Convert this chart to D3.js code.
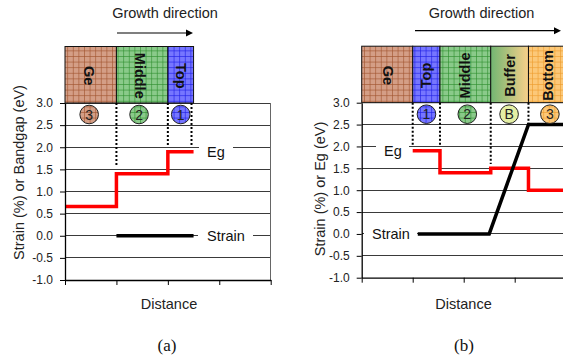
<!DOCTYPE html>
<html>
<head>
<meta charset="utf-8">
<script src="https://cdn.jsdelivr.net/npm/d3@7"></script>
<style>
  html, body { margin: 0; padding: 0; background: #fff; }
  svg { display: block; font-family: "Liberation Sans", Arial, Helvetica, sans-serif; }
</style>
</head>
<body>
<svg id="chart" width="563" height="358"></svg>
<script>
// ---------- data ----------
const yTicks = [-1.0, -0.5, 0.0, 0.5, 1.0, 1.5, 2.0, 2.5, 3.0];
const xTicks = [0, 1, 2, 3, 4];

// Panel (a)
const layersA = ["Ge", "Middle", "Top"];
const layerStartA = [0, 1, 2];
const layerEndA = [1, 2, 2.5];
const layerLabelXA = [0.46, 1.46, 2.25];
const circleLabelsA = ["3", "2", "1"];
const circleXA = [0.47, 1.44, 2.25];
const egStartA = [0, 1, 2];
const egEndA = [1, 2, 2.5];
const egValA = [0.66, 1.4, 1.9];
const strainXA = [1, 2.5];
const strainValA = [0, 0];
const dottedXA = [1, 2, 2.46];
const dottedBottomA = [1.6, 2.05, 2.05];

// Panel (b)
const layersB = ["Ge", "Top", "Middle", "Buffer", "Bottom"];
const layerStartB = [0, 1, 1.535, 2.53, 3.27];
const layerEndB = [1, 1.535, 2.53, 3.27, 4.6];
const layerLabelXB = [0.52, 1.27, 2.03, 2.91, 3.66];
const circleLabelsB = ["1", "2", "B", "3"];
const circleLayerB = ["Top", "Middle", "Buffer", "Bottom"];
const circleXB = [1.27, 2.07, 2.89, 3.69];
const egStartB = [1, 1.535, 2.53, 3.27];
const egEndB = [1.535, 2.53, 3.27, 4.6];
const egValB = [1.9, 1.4, 1.5, 1.0];
const strainXB = [1.1, 2.5, 3.27, 4.6];
const strainValB = [0, 0, 2.5, 2.5];
const dottedXB = [1, 1.535, 2.53, 3.27];
const dottedBottomB = [2.0, 2.0, 1.6, 2.5];

// ---------- styles ----------
const layerStyle = {
  Ge:     { bg: "#d49e86", line: "#a0522d" },
  Middle: { bg: "#8aca8a", line: "#2e8e2e" },
  Top:    { bg: "#7676ff", line: "#1c1ce4" },
  Bottom: { bg: "#fcc878", line: "#ee9c2c" }
};

const svg = d3.select("#chart");
svg.append("rect").attr("width", 563).attr("height", 358).attr("fill", "#fff");
const defs = svg.append("defs");

const P = 5.6;
Object.entries(layerStyle).forEach(([k, s]) => {
  const p = defs.append("pattern").attr("id", "pat-" + k)
    .attr("patternUnits", "userSpaceOnUse").attr("width", P).attr("height", P);
  p.append("rect").attr("width", P).attr("height", P).attr("fill", s.bg);
  p.append("path").attr("d", `M0,0.35H${P} M0.35,0V${P}`)
    .attr("stroke", s.line).attr("stroke-width", 0.7).attr("fill", "none");
});
const grad = defs.append("linearGradient").attr("id", "grad-Buffer")
  .attr("x1", "0%").attr("x2", "100%").attr("y1", "0%").attr("y2", "0%");
grad.append("stop").attr("offset", "0%").attr("stop-color", "#72b672");
grad.append("stop").attr("offset", "100%").attr("stop-color", "#f9d08a");
const fillFor = k => k === "Buffer" ? "url(#grad-Buffer)" : "url(#pat-" + k + ")";
const circleFill = k => k === "Buffer" ? "#e4efa4" : fillFor(k);

function steps(starts, ends, vals) {
  const pts = [];
  starts.forEach((s, i) => { pts.push([s, vals[i]]); pts.push([ends[i], vals[i]]); });
  return pts;
}

function drawPanel(cfg) {
  const x = d3.scaleLinear().domain([0, 4]).range([cfg.x0, cfg.x1]);
  const y = d3.scaleLinear().domain([-1, 3]).range([cfg.yBottom, cfg.yTop]);
  const g = svg.append("g");
  const right = Math.min(cfg.x1, 563);

  // gridlines
  g.append("g").selectAll("line").data(yTicks.filter(d => d > -1)).join("line")
    .attr("x1", x(0)).attr("x2", right).attr("y1", d => y(d)).attr("y2", d => y(d))
    .attr("stroke", "#3a3a3a").attr("stroke-width", 1).attr("shape-rendering", "crispEdges");
  if (cfg.rightBorder) {
    g.append("line").attr("x1", x(4)).attr("x2", x(4)).attr("y1", y(3)).attr("y2", y(-1))
      .attr("stroke", "#666").attr("shape-rendering", "crispEdges");
  }

  // layer blocks
  const blockTop = y(3) - 56.5;
  const blocks = g.append("g").selectAll("g").data(cfg.layers.map((n, i) => ({
    n, s: cfg.start[i], e: cfg.end[i], lx: cfg.labelX[i], rot: cfg.rot[i] })))
    .join("g");
  blocks.append("rect")
    .attr("x", d => x(d.s)).attr("y", blockTop)
    .attr("width", d => x(d.e) - x(d.s)).attr("height", y(3) - blockTop)
    .attr("fill", d => fillFor(d.n)).attr("stroke", "#111").attr("stroke-width", 1);
  blocks.append("text")
    .attr("transform", d => `translate(${x(d.lx)},${(blockTop + y(3)) / 2 + 1}) rotate(${d.rot})`)
    .attr("text-anchor", "middle").attr("dominant-baseline", "central")
    .attr("font-weight", "bold").attr("font-size", 14.5).attr("fill", "#111")
    .text(d => d.n);

  // dotted separators
  g.append("g").selectAll("line").data(cfg.dottedX.map((d, i) => [d, cfg.dottedBottom[i]])).join("line")
    .attr("x1", d => x(d[0])).attr("x2", d => x(d[0]))
    .attr("y1", y(3)).attr("y2", d => y(d[1]))
    .attr("stroke", "#000").attr("stroke-width", 2).attr("stroke-dasharray", "2,2");

  // label boxes (white)
  cfg.labels.forEach(l => {
    g.append("rect").attr("x", l.bx0).attr("y", y(l.v) - 9)
      .attr("width", l.bx1 - l.bx0).attr("height", 17).attr("fill", "#fff");
    g.append("text").attr("x", l.tx).attr("y", y(l.v) + 5.2)
      .attr("font-size", 14.5).attr("fill", "#111").text(l.t);
  });

  const line = d3.line().x(d => x(d[0])).y(d => y(d[1])).curve(d3.curveLinear);
  // Eg
  g.append("path").datum(steps(cfg.egStart, cfg.egEnd, cfg.egVal)).attr("d", line)
    .attr("fill", "none").attr("stroke", "#ff0000").attr("stroke-width", 3.5)
    .attr("stroke-linejoin", "miter");
  // Strain
  g.append("path").datum(cfg.strainX.map((d, i) => [d, cfg.strainVal[i]])).attr("d", line)
    .attr("fill", "none").attr("stroke", "#000").attr("stroke-width", 3.5)
    .attr("stroke-linejoin", "miter");

  // circles
  const cy = y(3) + 11.5;
  const circ = g.append("g").selectAll("g").data(cfg.circleLabels.map((t, i) => ({
    t, cx: cfg.circleX[i], k: cfg.circleLayer[i] }))).join("g");
  circ.append("circle").attr("cx", d => x(d.cx)).attr("cy", cy).attr("r", 9.3)
    .attr("fill", d => circleFill(d.k)).attr("stroke", "#222").attr("stroke-width", 1);
  circ.append("text").attr("x", d => x(d.cx)).attr("y", cy + 5)
    .attr("text-anchor", "middle").attr("font-size", 14).attr("fill", "#222").text(d => d.t);

  // axes
  const ya = g.append("g").attr("transform", `translate(${x(0)},0)`)
    .call(d3.axisLeft(y).tickValues(yTicks).tickFormat(d => d.toFixed(1))
      .tickSize(5).tickSizeOuter(0).tickPadding(7));
  ya.select(".domain").attr("stroke", "#000").attr("stroke-width", 1.3);
  ya.selectAll(".tick line").attr("stroke", "#000");
  ya.selectAll("text").attr("font-size", 12).attr("fill", "#222")
    .attr("font-family", "Liberation Sans, Arial, sans-serif");
  const xa = g.append("g").attr("transform", `translate(0,${y(-1)})`)
    .call(d3.axisBottom(x).tickValues(xTicks).tickFormat("").tickSize(5).tickSizeOuter(0));
  xa.select(".domain").attr("stroke", "#000").attr("stroke-width", 1.3);
  xa.selectAll(".tick line").attr("stroke", "#000");

  // axis titles
  g.append("text").attr("transform", `translate(${cfg.yTitleX},${cfg.yTitleY}) rotate(-90)`)
    .attr("text-anchor", "middle").attr("dominant-baseline", "central")
    .attr("font-size", 14.5).attr("fill", "#222").text(cfg.yTitle);
  g.append("text").attr("x", cfg.distX).attr("y", 308.5).attr("text-anchor", "middle")
    .attr("font-size", 14.5).attr("fill", "#222").text("Distance");
  g.append("text").attr("x", cfg.capX).attr("y", 351).attr("text-anchor", "middle")
    .attr("font-family", "Liberation Serif, Times New Roman, serif")
    .attr("font-size", 17).attr("fill", "#111").text(cfg.caption);

  // growth direction
  g.append("text").attr("x", cfg.gdX).attr("y", 17.5).attr("text-anchor", "middle")
    .attr("font-size", 14.5).attr("fill", "#222").text("Growth direction");
  g.append("line").attr("x1", cfg.arX0).attr("x2", cfg.arX1 - 6).attr("y1", cfg.arY).attr("y2", cfg.arY)
    .attr("stroke", "#000").attr("stroke-width", 1.2);
  g.append("path").attr("d", `M${cfg.arX1},${cfg.arY} L${cfg.arX1 - 7},${cfg.arY - 3.5} L${cfg.arX1 - 7},${cfg.arY + 3.5} Z`)
    .attr("fill", "#000");
}

drawPanel({
  x0: 65, x1: 270.7, yTop: 103, yBottom: 280, rightBorder: true,
  layers: layersA, start: layerStartA, end: layerEndA, labelX: layerLabelXA, rot: [90, 90, 90],
  circleLabels: circleLabelsA, circleX: circleXA, circleLayer: layersA,
  egStart: egStartA, egEnd: egEndA, egVal: egValA,
  strainX: strainXA, strainVal: strainValA,
  dottedX: dottedXA, dottedBottom: dottedBottomA,
  labels: [
    { t: "Eg", v: egValA[2], tx: 207, bx0: 199, bx1: 233 },
    { t: "Strain", v: 0, tx: 207, bx0: 198, bx1: 253 }
  ],
  yTitle: "Strain (%) or Bandgap (eV)", yTitleX: 18.5, yTitleY: 172.5,
  distX: 169, capX: 167, caption: "(a)",
  gdX: 165, arX0: 117, arX1: 193, arY: 33
});

drawPanel({
  x0: 361.7, x1: 565.7, yTop: 102.7, yBottom: 277.7, rightBorder: false,
  layers: layersB, start: layerStartB, end: layerEndB, labelX: layerLabelXB, rot: [90, -90, -90, -90, -90],
  circleLabels: circleLabelsB, circleX: circleXB, circleLayer: circleLayerB,
  egStart: egStartB, egEnd: egEndB, egVal: egValB,
  strainX: strainXB, strainVal: strainValB,
  dottedX: dottedXB, dottedBottom: dottedBottomB,
  labels: [
    { t: "Eg", v: egValB[0], tx: 384, bx0: 376, bx1: 409 },
    { t: "Strain", v: 0, tx: 372, bx0: 364, bx1: 417 }
  ],
  yTitle: "Strain (%) or Eg (eV)", yTitleX: 320, yTitleY: 189,
  distX: 463.5, capX: 464, caption: "(b)",
  gdX: 481.5, arX0: 415, arX1: 561, arY: 30.7
});
</script>
</body>
</html>
